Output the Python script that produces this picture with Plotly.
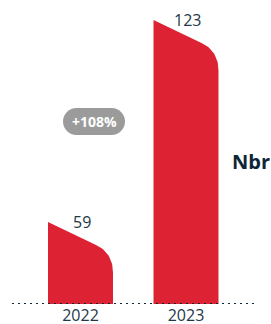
import numpy as np
import plotly.graph_objects as go

categories = ["2022", "2023"]
values = [59, 123]
change_label = "+108%"
unit_label = "Nbr"

RED = "#dd2234"
TEXT = "#243746"
DARK = "#0d2638"

W, H = 271, 324
MB = 20
# axis scaling (px per unit)
PX_X = 105.5
PX_Y = 3.156
x_range = [-80.5 / PX_X, -80.5 / PX_X + W / PX_X]
y_base = 33.0
y_range = [y_base, y_base + (H - MB) / PX_Y]

bar_w_px = 65.0

fig = go.Figure()


def bar_outline(i, v):
    half = bar_w_px / 2
    # cap geometry in pixels relative to top-left corner (y downward positive)
    pts = [(0.0, 0.0), (48.0, 23.0)]
    p0 = np.array([48.0, 23.0]); c = np.array([65.0, 31.0]); p2 = np.array([65.0, 51.0])
    for t in np.linspace(0, 1, 20)[1:]:
        p = (1 - t) ** 2 * p0 + 2 * (1 - t) * t * c + t ** 2 * p2
        pts.append((p[0], p[1]))
    xs, ys = [], []
    xs.append(i - half / PX_X); ys.append(y_base)
    for px, py in pts:
        xs.append(i + (px - half) / PX_X)
        ys.append(v - py / PX_Y)
    xs.append(i + half / PX_X); ys.append(y_base)
    xs.append(i - half / PX_X); ys.append(y_base)
    return xs, ys


for i, (cat, v) in enumerate(zip(categories, values)):
    xs, ys = bar_outline(i, v)
    fig.add_trace(go.Scatter(x=xs, y=ys, mode="lines", fill="toself",
                             fillcolor=RED, line=dict(width=0, color=RED),
                             hoverinfo="skip", showlegend=False))
    fig.add_annotation(x=i, y=v, text=str(v), showarrow=False, xshift=1, yshift=0,
                       yanchor="middle", font=dict(size=16, color=TEXT, family="Open Sans"))

# dotted baseline
fig.add_shape(type="line", xref="paper", yref="y",
              x0=12 / W, x1=256 / W, y0=y_base, y1=y_base,
              line=dict(color=DARK, width=2, dash="2px,4px"))

# pill
pw, ph = 62.0, 27.0
r = ph / 2
k = 0.5523 * r
hx = pw / 2 - r
path = (f"M {-hx},{r} L {hx},{r} C {hx + k},{r} {hx + r},{k} {hx + r},0 "
        f"C {hx + r},{-k} {hx + k},{-r} {hx},{-r} L {-hx},{-r} "
        f"C {-hx - k},{-r} {-hx - r},{-k} {-hx - r},0 "
        f"C {-hx - r},{k} {-hx - k},{r} {-hx},{r} Z")
pill_x = 94 / W
pill_y = 1 - 121.5 / (H - MB)
fig.add_shape(type="path", xref="paper", yref="paper", xsizemode="pixel", ysizemode="pixel",
              xanchor=pill_x, yanchor=pill_y, path=path, fillcolor="#9b9b9b",
              line=dict(width=0), layer="above")
fig.add_annotation(xref="paper", yref="paper", x=pill_x, y=pill_y, text=f"<b>{change_label}</b>",
                   xanchor="center", yanchor="middle",
                   showarrow=False, font=dict(size=14, color="white", family="Open Sans"))

fig.add_annotation(xref="paper", yref="paper", x=251 / W, y=1 - 161 / (H - MB),
                   xanchor="center", yanchor="middle",
                   text=f"<b>{unit_label}</b>", showarrow=False,
                   font=dict(size=20, color=DARK, family="Open Sans"))

fig.update_layout(
    width=W, height=H, margin=dict(l=0, r=0, t=0, b=MB, autoexpand=False),
    paper_bgcolor="white", plot_bgcolor="white",
    xaxis=dict(range=x_range, tickvals=list(range(len(categories))), ticktext=categories,
               showgrid=False, zeroline=False, showline=False, ticks="", ticklen=0,
               automargin=False,
               tickfont=dict(size=16, color=TEXT, family="Open Sans")),
    yaxis=dict(range=y_range, showgrid=False, zeroline=False, showticklabels=False,
               automargin=False),
    showlegend=False,
)

fig.write_html("out.html", config={"displayModeBar": False},
               post_script="document.body.style.margin='0';document.body.style.overflow='hidden';")
